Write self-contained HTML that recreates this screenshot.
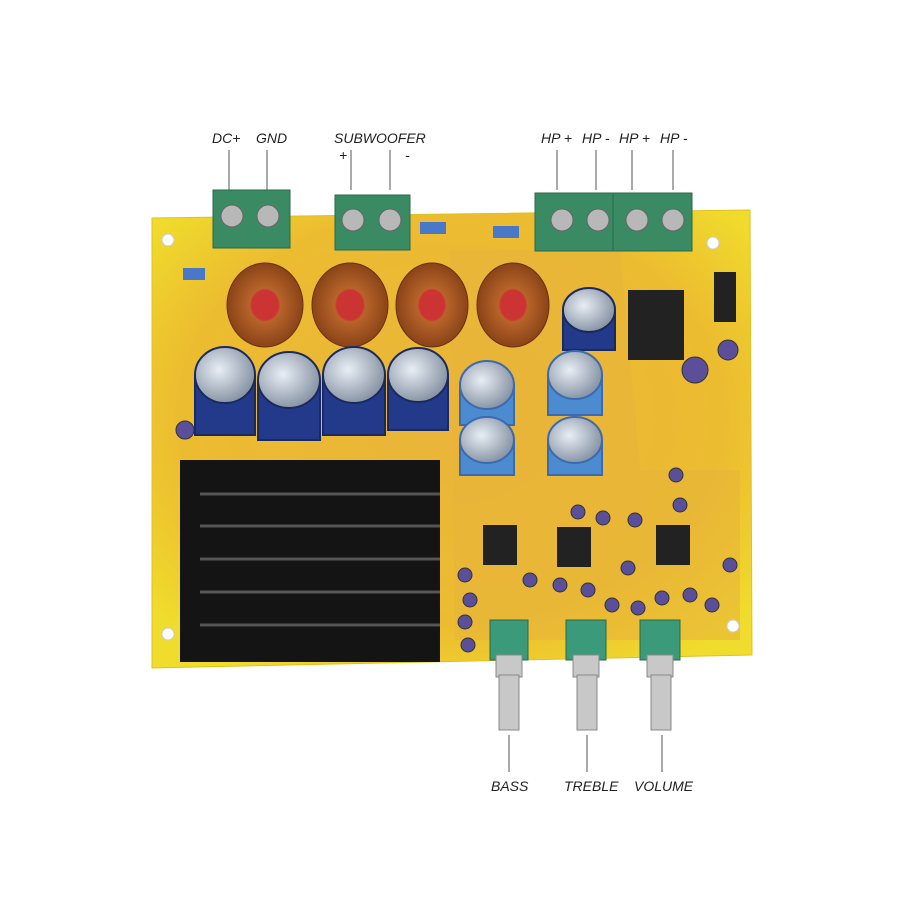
<!DOCTYPE html>
<html><head><style>
html,body{margin:0;padding:0;background:#fff;}
svg{display:block}
text{font-family:"Liberation Sans",sans-serif;font-style:italic;font-size:14px;fill:#222}
</style></head><body>
<svg width="900" height="900" viewBox="0 0 900 900" xmlns="http://www.w3.org/2000/svg">
<defs>
<radialGradient id="pcb" cx="50%" cy="45%" r="65%"><stop offset="0" stop-color="#eab43a"/><stop offset="0.7" stop-color="#ecbc30"/><stop offset="1" stop-color="#f0dc2c"/></radialGradient>
<radialGradient id="top" cx="40%" cy="40%" r="60%"><stop offset="0" stop-color="#e8eef5"/><stop offset="1" stop-color="#8a96a6"/></radialGradient>
<radialGradient id="tor" cx="50%" cy="50%" r="50%"><stop offset="0.35" stop-color="#c33"/><stop offset="0.4" stop-color="#b8642a"/><stop offset="1" stop-color="#8a4418"/></radialGradient>
</defs>
<text x="212" y="143">DC+</text><text x="256" y="143">GND</text>
<text x="334" y="143">SUBWOOFER</text>
<text x="339" y="160">+</text><text x="405" y="160">-</text>
<text x="541" y="143">HP +</text><text x="582" y="143">HP -</text><text x="619" y="143">HP +</text><text x="660" y="143">HP -</text>
<g stroke="#555" stroke-width="1">
<line x1="229" y1="150" x2="229" y2="190"/><line x1="267" y1="150" x2="267" y2="190"/>
<line x1="351" y1="150" x2="351" y2="190"/><line x1="390" y1="150" x2="390" y2="190"/>
<line x1="557" y1="150" x2="557" y2="190"/><line x1="596" y1="150" x2="596" y2="190"/>
<line x1="632" y1="150" x2="632" y2="190"/><line x1="673" y1="150" x2="673" y2="190"/>
<line x1="509" y1="735" x2="509" y2="772"/><line x1="587" y1="735" x2="587" y2="772"/><line x1="662" y1="735" x2="662" y2="772"/>
</g>
<text x="491" y="791">BASS</text><text x="564" y="791">TREBLE</text><text x="634" y="791">VOLUME</text>
<polygon points="152,218 750,210 752,655 152,668" fill="url(#pcb)" stroke="#e0c020"/>
<polygon points="450,250 620,250 640,470 740,470 740,640 455,640" fill="#e8b43a" opacity="0.6"/>
<g fill="#fff" stroke="#ccc"><circle cx="168" cy="240" r="6"/><circle cx="713" cy="243" r="6"/><circle cx="168" cy="634" r="6"/><circle cx="733" cy="626" r="6"/></g>
<rect x="180" y="460" width="260" height="202" fill="#141414"/>
<g stroke="#555" stroke-width="3">
<line x1="200" y1="494" x2="440" y2="494"/><line x1="200" y1="526" x2="440" y2="526"/><line x1="200" y1="559" x2="440" y2="559"/><line x1="200" y1="592" x2="440" y2="592"/><line x1="200" y1="625" x2="440" y2="625"/>
</g>
<g stroke="#6a3010" stroke-width="1">
<ellipse cx="265" cy="305" rx="38" ry="42" fill="url(#tor)"/>
<ellipse cx="350" cy="305" rx="38" ry="42" fill="url(#tor)"/>
<ellipse cx="432" cy="305" rx="36" ry="42" fill="url(#tor)"/>
<ellipse cx="513" cy="305" rx="36" ry="42" fill="url(#tor)"/>
</g>
<g stroke="#1a2a60" stroke-width="2">
<rect x="195" y="375" width="60" height="60" fill="#233a8a"/><ellipse cx="225" cy="375" rx="30" ry="28" fill="url(#top)"/>
<rect x="258" y="380" width="62" height="60" fill="#233a8a"/><ellipse cx="289" cy="380" rx="31" ry="28" fill="url(#top)"/>
<rect x="323" y="375" width="62" height="60" fill="#233a8a"/><ellipse cx="354" cy="375" rx="31" ry="28" fill="url(#top)"/>
<rect x="388" y="375" width="60" height="55" fill="#233a8a"/><ellipse cx="418" cy="375" rx="30" ry="27" fill="url(#top)"/>
<rect x="563" y="310" width="52" height="40" fill="#233a8a"/><ellipse cx="589" cy="310" rx="26" ry="22" fill="url(#top)"/>
</g>
<g stroke="#3a6ab0" stroke-width="2">
<rect x="460" y="385" width="54" height="40" fill="#4d8bd0"/><ellipse cx="487" cy="385" rx="27" ry="24" fill="url(#top)"/>
<rect x="548" y="375" width="54" height="40" fill="#4d8bd0"/><ellipse cx="575" cy="375" rx="27" ry="24" fill="url(#top)"/>
<rect x="460" y="440" width="54" height="35" fill="#4d8bd0"/><ellipse cx="487" cy="440" rx="27" ry="23" fill="url(#top)"/>
<rect x="548" y="440" width="54" height="35" fill="#4d8bd0"/><ellipse cx="575" cy="440" rx="27" ry="23" fill="url(#top)"/>
</g>
<rect x="628" y="290" width="56" height="70" fill="#222"/>
<rect x="714" y="272" width="22" height="50" fill="#222"/>
<rect x="483" y="525" width="34" height="40" fill="#222"/><rect x="557" y="527" width="34" height="40" fill="#222"/><rect x="656" y="525" width="34" height="40" fill="#222"/>
<g fill="#5a4f98" stroke="#333">
<circle cx="185" cy="430" r="9"/><circle cx="695" cy="370" r="13"/><circle cx="728" cy="350" r="10"/>
<circle cx="465" cy="575" r="7"/><circle cx="470" cy="600" r="7"/><circle cx="465" cy="622" r="7"/><circle cx="468" cy="645" r="7"/>
<circle cx="530" cy="580" r="7"/><circle cx="560" cy="585" r="7"/><circle cx="588" cy="590" r="7"/><circle cx="612" cy="605" r="7"/><circle cx="638" cy="608" r="7"/><circle cx="662" cy="598" r="7"/><circle cx="690" cy="595" r="7"/><circle cx="712" cy="605" r="7"/><circle cx="730" cy="565" r="7"/><circle cx="628" cy="568" r="7"/><circle cx="578" cy="512" r="7"/><circle cx="603" cy="518" r="7"/><circle cx="635" cy="520" r="7"/><circle cx="680" cy="505" r="7"/><circle cx="676" cy="475" r="7"/>
</g>
<g fill="#3a8a64" stroke="#2a6a4a">
<rect x="213" y="190" width="77" height="58"/>
<rect x="335" y="195" width="75" height="55"/>
<rect x="535" y="193" width="80" height="58"/>
<rect x="613" y="193" width="79" height="58"/>
</g>
<g fill="#b8b8b8" stroke="#666">
<circle cx="232" cy="216" r="11"/><circle cx="268" cy="216" r="11"/>
<circle cx="353" cy="220" r="11"/><circle cx="390" cy="220" r="11"/>
<circle cx="562" cy="220" r="11"/><circle cx="598" cy="220" r="11"/><circle cx="637" cy="220" r="11"/><circle cx="673" cy="220" r="11"/>
</g>
<g fill="#4a78c8"><rect x="420" y="222" width="26" height="12"/><rect x="493" y="226" width="26" height="12"/><rect x="183" y="268" width="22" height="12"/></g>
<g fill="#3a9a7a" stroke="#2a6a4a">
<rect x="490" y="620" width="38" height="40"/><rect x="566" y="620" width="40" height="40"/><rect x="640" y="620" width="40" height="40"/>
</g>
<g fill="#c8c8c8" stroke="#888">
<rect x="496" y="655" width="26" height="22"/><rect x="573" y="655" width="26" height="22"/><rect x="647" y="655" width="26" height="22"/>
<rect x="499" y="675" width="20" height="55"/><rect x="577" y="675" width="20" height="55"/><rect x="651" y="675" width="20" height="55"/>
</g>
</svg>
</body></html>
